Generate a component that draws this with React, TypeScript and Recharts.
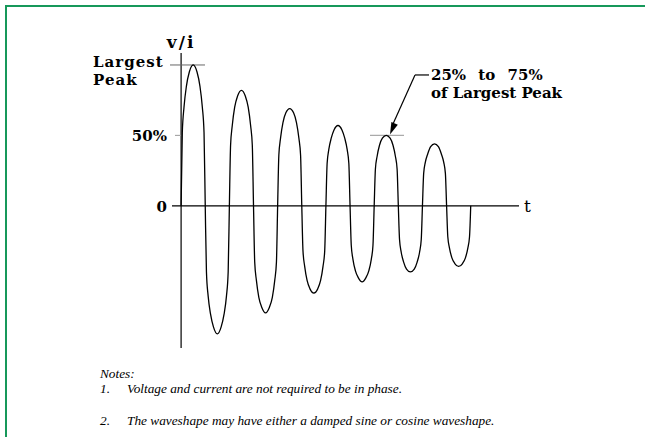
import React from "react";
import {
	LineChart,
	Line,
	XAxis,
	YAxis,
	ReferenceLine,
	ReferenceDot
} from "recharts";

// time in half periods, value in % of the largest peak
const waveTimes = [
	0, 0.05, 0.12, 0.22, 0.34, 0.5, 0.66, 0.78, 0.88, 0.95,
	1, 1.05, 1.12, 1.22, 1.34, 1.5, 1.66, 1.78, 1.88, 1.95,
	2, 2.05, 2.12, 2.22, 2.34, 2.5, 2.66, 2.78, 2.88, 2.95,
	3, 3.05, 3.12, 3.22, 3.34, 3.5, 3.66, 3.78, 3.88, 3.95,
	4, 4.05, 4.12, 4.22, 4.34, 4.5, 4.66, 4.78, 4.88, 4.95,
	5, 5.05, 5.12, 5.22, 5.34, 5.5, 5.66, 5.78, 5.88, 5.95,
	6, 6.05, 6.12, 6.22, 6.34, 6.5, 6.66, 6.78, 6.88, 6.95,
	7, 7.05, 7.12, 7.22, 7.34, 7.5, 7.66, 7.78, 7.88, 7.95,
	8, 8.05, 8.12, 8.22, 8.34, 8.5, 8.66, 8.78, 8.88, 8.95,
	9, 9.05, 9.12, 9.22, 9.34, 9.5, 9.66, 9.78, 9.88, 9.95,
	10, 10.05, 10.12, 10.22, 10.34, 10.5, 10.66, 10.78, 10.88, 10.95,
	11, 11.05, 11.12, 11.22, 11.34, 11.5, 11.66, 11.78, 11.88, 11.95,
	12
];
const waveValues = [
	0, 52, 70, 85, 95, 100, 95, 85, 70, 52,
	0, -47, -64, -77, -86, -91, -86, -77, -64, -47,
	0, 43, 57, 70, 78, 82, 78, 70, 57, 43,
	0, -40, -53, -65, -72, -76, -72, -65, -53, -40,
	0, 36, 48, 59, 66, 69, 66, 59, 48, 36,
	0, -32, -43, -53, -59, -62, -59, -53, -43, -32,
	0, 30, 40, 48, 54, 57, 54, 48, 40, 30,
	0, -28, -38, -46, -51, -54, -51, -46, -38, -28,
	0, 26, 35, 43, 48, 50, 48, 43, 35, 26,
	0, -24, -33, -40, -45, -47, -45, -40, -33, -24,
	0, 23, 31, 37, 42, 44, 42, 37, 31, 23,
	0, -22, -30, -37, -41, -43, -41, -37, -30, -22,
	0
];
const yTicks = [0, 50, 100];
const noteLines = [
	"Voltage and current are not required to be in phase.",
	"The waveshape may have either a damped sine or cosine waveshape."
];

const data = waveTimes.map((t, i) => ({ t, v: waveValues[i] }));

const labelFont = "'DejaVu Serif', serif";

const YTick = (props: any) => {
	const { y, payload } = props;
	const style = { fontFamily: labelFont, fontSize: 15, fontWeight: "bold" as const };
	if (payload.value === 100) {
		return (
			<text x={93} y={y} fill="#000" style={{ ...style, letterSpacing: 1 }}>
				<tspan x={93} dy={2}>Largest</tspan>
				<tspan x={93} dy={18}>Peak</tspan>
			</text>
		);
	}
	return (
		<text x={167} y={y + 6} textAnchor="end" fill="#000" style={style}>
			{payload.value === 50 ? "50%" : "0"}
		</text>
	);
};

const ArrowHead = (props: any) => {
	const { cx, cy } = props;
	// direction back along the leader line
	const ux = 0.385, uy = -0.923;
	const len = 12, half = 3.5;
	const bx = cx + ux * len, by = cy + uy * len;
	const pts = `${cx},${cy} ${bx - uy * half},${by + ux * half} ${bx + uy * half},${by - ux * half}`;
	return <polygon points={pts} fill="#000" />;
};

const NoteText = (props: any) => {
	const { cx, cy } = props;
	const style = { fontFamily: labelFont, fontSize: 15, fontWeight: "bold" as const };
	return (
		<text x={cx} y={cy} fill="#000" style={style}>
			<tspan x={cx} dy={0} style={{ wordSpacing: 7 }}>25% to 75%</tspan>
			<tspan x={cx} dy={18}>of Largest Peak</tspan>
		</text>
	);
};

const App = () => {
	return (
		<div
			style={{
				position: "absolute",
				left: 0,
				top: 0,
				width: 645,
				height: 437,
				overflow: "hidden",
				background: "#fff"
			}}
		>
			<div
				style={{
					position: "absolute",
					left: 5,
					top: 5,
					width: 700,
					height: 500,
					borderTop: "2px solid #16985a",
					borderLeft: "2px solid #16985a"
				}}
			/>
			<div style={{ position: "absolute", left: 0, top: 0 }}>
				<LineChart
					width={645}
					height={437}
					data={data}
					margin={{ top: 53, right: 126, bottom: 89, left: 0 }}
				>
					<XAxis
						dataKey="t"
						type="number"
						domain={[-0.46, 14]}
						allowDataOverflow
						hide
					/>
					<YAxis
						type="number"
						domain={[-101, 108.5]}
						allowDataOverflow
						ticks={yTicks}
						width={170}
						axisLine={false}
						tickLine={false}
						tick={<YTick />}
					/>
					<ReferenceLine
						x={0}
						stroke="#000"
						strokeWidth={1.2}
						label={{
							value: "v/i",
							position: "top",
							offset: 5,
							fill: "#000",
							fontSize: 17,
							fontWeight: "bold",
							letterSpacing: 2,
							fontFamily: labelFont
						}}
					/>
					<ReferenceLine
						segment={[{ x: -0.377, y: 0 }, { x: 14, y: 0 }]}
						stroke="#000"
						strokeWidth={1.2}
						label={{
							value: "t",
							position: "right",
							offset: 5,
							fill: "#000",
							fontSize: 17,
							fontFamily: labelFont
						}}
					/>
					<ReferenceLine
						segment={[{ x: -0.46, y: 100 }, { x: 0.99, y: 100 }]}
						stroke="#666"
						strokeWidth={1}
					/>
					<ReferenceLine
						segment={[{ x: -0.253, y: 50 }, { x: 0, y: 50 }]}
						stroke="#999"
						strokeWidth={1}
					/>
					<ReferenceLine
						segment={[{ x: 7.827, y: 50 }, { x: 9.235, y: 50 }]}
						stroke="#aaa"
						strokeWidth={1.2}
					/>
					<ReferenceLine
						segment={[{ x: 9.691, y: 92.9 }, { x: 10.271, y: 92.9 }]}
						stroke="#000"
						strokeWidth={1.2}
					/>
					<ReferenceLine
						segment={[{ x: 9.691, y: 92.9 }, { x: 8.78, y: 58 }]}
						stroke="#000"
						strokeWidth={1.2}
					/>
					<ReferenceDot x={8.655} y={50.6} r={0} shape={<ArrowHead />} />
					<ReferenceDot x={10.354} y={89.3} r={0} shape={<NoteText />} />
					<Line
						type="monotone"
						dataKey="v"
						stroke="#000"
						strokeWidth={1.3}
						dot={false}
						isAnimationActive={false}
					/>
				</LineChart>
			</div>
			<div
				style={{
					position: "absolute",
					left: 100,
					top: 367,
					fontFamily: "'Liberation Serif', serif",
					fontStyle: "italic",
					fontSize: 13.3,
					lineHeight: "13px",
					whiteSpace: "nowrap"
				}}
			>
				<div>Notes:</div>
				<div style={{ position: "absolute", top: 15 }}>
					<span>1.</span>
					<span style={{ position: "absolute", left: 27 }}>{noteLines[0]}</span>
				</div>
				<div style={{ position: "absolute", top: 47 }}>
					<span>2.</span>
					<span style={{ position: "absolute", left: 27 }}>{noteLines[1]}</span>
				</div>
			</div>
		</div>
	);
};

export default App;
